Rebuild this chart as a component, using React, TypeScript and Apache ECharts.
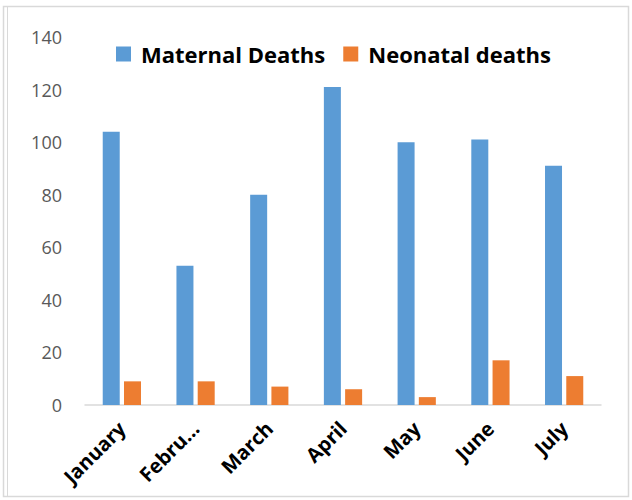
import React, { useEffect, useRef } from "react";
import * as echarts from "echarts";

const categories = ["January", "February", "March", "April", "May", "June", "July"];
const maternalDeaths = [104, 53, 80, 121, 100, 101, 91];
const neonatalDeaths = [9, 9, 7, 6, 3, 17, 11];
const yTicks = { min: 0, max: 140, interval: 20 };

export default function App() {
  const ref = useRef<HTMLDivElement>(null);
  useEffect(() => {
    if (!ref.current) return;
    const chart = echarts.init(ref.current, null, { renderer: "svg" });
    chart.setOption({
      animation: false,
      backgroundColor: "#ffffff",
      textStyle: { fontFamily: "'Open Sans', sans-serif" },
      graphic: [
        { type: "rect", shape: { x: 3.5, y: 6.5, width: 625, height: 490 }, style: { fill: "none", stroke: "#d9d9d9", lineWidth: 1.5 } },
        { type: "line", shape: { x1: 7.5, y1: 6.5, x2: 7.5, y2: 496.5 }, style: { stroke: "#d9d9d9", lineWidth: 1 } },
      ],
      legend: {
        top: 38,
        left: 111,
        itemWidth: 15,
        itemHeight: 15,
        itemGap: 18,
        icon: "rect",
        textStyle: { fontSize: 22, fontWeight: "bold", color: "#000000", fontFamily: "'Open Sans', sans-serif", padding: [0, 0, 0, 5] },
        data: ["Maternal Deaths", "Neonatal deaths"],
      },
      grid: { left: 85, right: 31, top: 37, bottom: 95 },
      xAxis: {
        type: "category",
        data: categories,
        axisLine: { lineStyle: { color: "#d9d9d9", width: 1.5 } },
        axisTick: { show: false },
        axisLabel: {
          rotate: 45,
          margin: 20,
          fontSize: 20,
          fontWeight: "bold",
          color: "#000000",
          fontFamily: "'Open Sans', sans-serif",
          interval: 0,
          formatter: (v: string) => (v.length > 7 ? v.slice(0, 5) + "..." : v),
        },
      },
      yAxis: {
        type: "value",
        min: yTicks.min,
        max: yTicks.max,
        interval: yTicks.interval,
        splitLine: { show: false },
        axisLine: { show: false },
        axisTick: { show: false },
        axisLabel: { fontSize: 18, color: "#595959", margin: 23, fontFamily: "'Open Sans', sans-serif" },
      },
      series: [
        {
          name: "Maternal Deaths",
          type: "bar",
          data: maternalDeaths,
          barWidth: 17,
          barGap: "25%",
          itemStyle: { color: "#5B9BD5" },
        },
        {
          name: "Neonatal deaths",
          type: "bar",
          data: neonatalDeaths,
          barWidth: 17,
          barGap: "25%",
          itemStyle: { color: "#ED7D31" },
        },
      ],
    });
    return () => chart.dispose();
  }, []);
  return <div ref={ref} style={{ width: 632, height: 500, position: "absolute", left: 0, top: 0 }} />;
}
